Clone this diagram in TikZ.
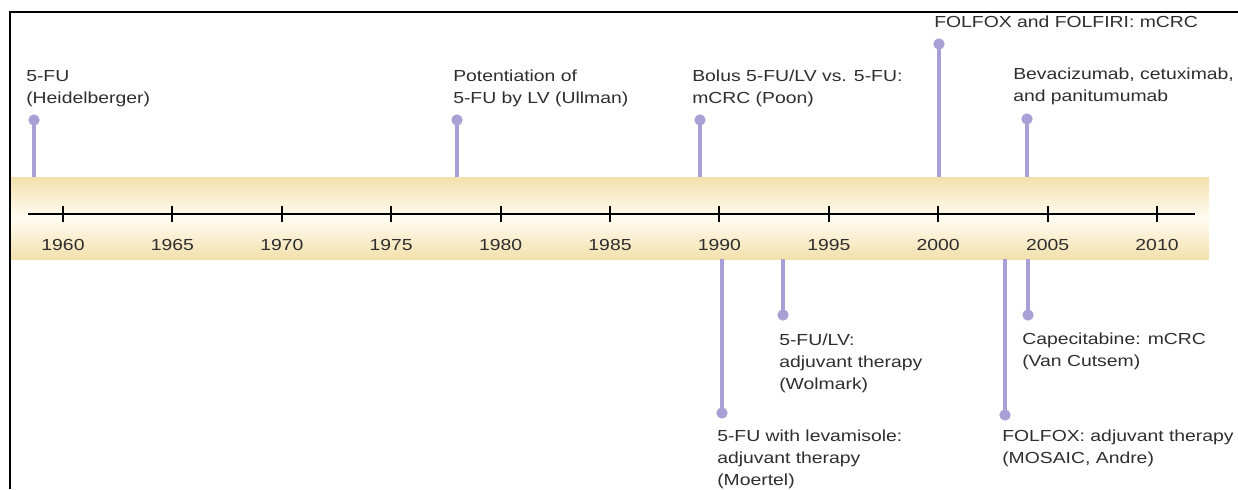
\documentclass[tikz,border=0pt]{standalone}
\usepackage{fontspec}
\setmainfont{Liberation Sans}[FakeStretch=1.21]
\usepackage{tikz}
\usepackage{color}

\definecolor{bandtan}{RGB}{243,224,172}
\definecolor{bandlight}{RGB}{255,252,242}
\definecolor{stemlilac}{RGB}{168,160,212}
\definecolor{labelgray}{RGB}{46,46,46}

\tikzset{
  stem/.style={draw=stemlilac, line width=3pt},
  stemdot/.style={circle, fill=stemlilac, inner sep=0pt, minimum size=8.5pt},
  eventtext/.style={anchor=north west, inner sep=0pt, align=left, text=labelgray,
    font=\fontsize{12}{16.5}\selectfont},
  yeartext/.style={inner sep=0pt, text=labelgray, font=\fontsize{12}{14}\selectfont}
}

\begin{document}
\begin{tikzpicture}[x=0.75pt,y=0.75pt,yscale=-1,xscale=1]
\useasboundingbox (0,0) rectangle (1238,489);

%Frame
\draw [line width=1.5pt]   (10,489) -- (10,12) -- (1238,12) ;

%Band
\fill [top color=bandtan, bottom color=bandtan, middle color=bandlight]  (11,177) rectangle (1209,259) ;
\coordinate (bandtop) at (0,177);
\coordinate (bandbot) at (0,259);

%Axis
\draw [line width=1.4pt]   (28,214) -- (1195,214) ;
\foreach \yr [count=\i from 0] in {1960,1965,...,2010} {
  \draw [line width=1.4pt]   (63+\i*109.4,206) -- (63+\i*109.4,222) ;
  \node [yeartext] (y\yr) at (63+\i*109.4,245) {\yr};
}

% Dots above the band
\node [stemdot] (heid) at (34,120) {};
\node [stemdot] (ullman) at (457,120) {};
\node [stemdot] (poon) at (700,120) {};
\node [stemdot] (folfiri) at (939,44) {};
\node [stemdot] (bevac) at (1027,119) {};
% Dots below the band
\node [stemdot] (moertel) at (722,413) {};
\node [stemdot] (wolmark) at (783,315) {};
\node [stemdot] (mosaic) at (1005,415) {};
\node [stemdot] (vancut) at (1028,315) {};

% Stems
\draw [stem]  (heid.center) -- (heid |- bandtop) ;
\draw [stem]  (ullman.center) -- (ullman |- bandtop) ;
\draw [stem]  (poon.center) -- (poon |- bandtop) ;
\draw [stem]  (folfiri.center) -- (folfiri |- bandtop) ;
\draw [stem]  (bevac.center) -- (bevac |- bandtop) ;
\draw [stem]  (moertel.center) -- (moertel |- bandbot) ;
\draw [stem]  (wolmark.center) -- (wolmark |- bandbot) ;
\draw [stem]  (mosaic.center) -- (mosaic |- bandbot) ;
\draw [stem]  (vancut.center) -- (vancut |- bandbot) ;

% Text Node
\node [eventtext] (theid) at (26,70) {5-FU\\(Heidelberger)};
% Text Node
\node [eventtext] (tullman) at (453,70) {Potentiation of\\5-FU by LV (Ullman)};
% Text Node
\node [eventtext] (tpoon) at (692,70) {Bolus 5-FU/LV vs. 5-FU:\\mCRC (Poon)};
% Text Node
\node [eventtext] (tfolfiri) at (934,16) {FOLFOX and FOLFIRI: mCRC};
% Text Node
\node [eventtext] (tbevac) at (1013,68) {Bevacizumab, cetuximab,\\and panitumumab};
% Text Node
\node [eventtext] (twolmark) at (779,334) {5-FU/LV:\\adjuvant therapy\\(Wolmark)};
% Text Node
\node [eventtext] (tmoertel) at (717,430) {5-FU with levamisole:\\adjuvant therapy\\(Moertel)};
% Text Node
\node [eventtext] (tvancut) at (1022,333) {Capecitabine: mCRC\\(Van Cutsem)};
% Text Node
\node [eventtext] (tmosaic) at (1002,430) {FOLFOX: adjuvant therapy\\(MOSAIC, Andre)};

\end{tikzpicture}
\end{document}
